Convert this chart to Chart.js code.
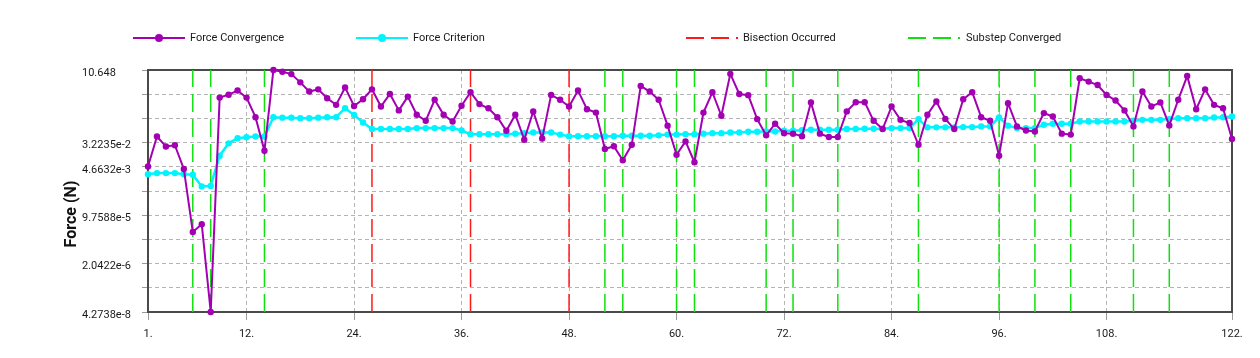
<!DOCTYPE html>
<html>
<head>
<meta charset="utf-8">
<script src="https://cdn.jsdelivr.net/npm/chart.js@4/dist/chart.umd.min.js"></script>
<style>
html,body{margin:0;padding:0;background:#fff;}
#wrap{width:1260px;height:358px;}
</style>
</head>
<body>
<div id="wrap"><canvas id="c" width="1260" height="358"></canvas></div>
<script>
// ---------- data ----------
const iterations = Array.from({length: 122}, (_, i) => i + 1);

const forceConvergence = [
  4.75e-3, 5.23e-2, 2.37e-2, 2.61e-2, 3.92e-3, 2.57e-5, 4.77e-5, 4.2738e-8, 1.175, 1.482,      // 1-10
  2.059, 1.175, 0.2455, 1.671e-2, 10.648, 9.30, 7.664, 3.972, 1.905, 2.268,                   // 11-20
  1.109, 0.658, 2.647, 0.5974, 1.026, 2.268, 0.5748, 1.570, 0.4218, 1.270,                    // 21-30
  0.2978, 0.1837, 0.9874, 0.2978, 0.1733, 0.6091, 1.798, 0.6973, 0.5020, 0.2455,              // 31-40
  0.08314, 0.2978, 0.04065, 0.3904, 0.04478, 1.454, 0.9874, 0.5748, 2.059, 0.4646,            // 41-50
  0.3543, 0.01950, 0.02412, 0.007859, 0.02709, 2.972, 1.905, 0.9874, 0.1248, 0.01226,         // 51-60
  0.03551, 0.006733, 0.3543, 1.798, 0.2757, 7.816, 1.570, 1.426, 0.2103, 0.05757,             // 61-70
  0.1457, 0.06852, 0.06592, 0.05329, 0.7985, 0.06592, 0.05028, 0.05028, 0.3904, 0.8140,       // 71-80
  0.8140, 0.1837, 0.09519, 0.5748, 0.1984, 0.1544, 0.02709, 0.2978, 0.8627, 0.2144,           // 81-90
  0.09519, 1.026, 1.798, 0.2455, 0.1837, 0.01134, 0.7534, 0.1177, 0.08476, 0.07844,           // 91-100
  0.3409, 0.2602, 0.06592, 0.06101, 5.517, 4.210, 3.212, 1.454, 0.9318, 0.4218,               // 101-110
  0.1177, 1.905, 0.5748, 0.7985, 0.1272, 0.9874, 6.567, 0.4646, 2.268, 0.658,                 // 111-120
  0.5020, 0.04308                                                                              // 121-122
];

const forceCriterion = [
  2.560e-3, 2.821e-3, 2.821e-3, 2.821e-3, 2.560e-3, 2.464e-3, 9.741e-4, 1.012e-3, 1.134e-2, 3.042e-2, // 1-10
  4.566e-2, 4.933e-2, 5.23e-2, 5.23e-2, 0.2455, 0.2362, 0.2362, 0.2272, 0.2272, 0.2362,               // 11-20
  0.2455, 0.2455, 0.5020, 0.2921, 0.1604, 0.09519, 0.09519, 0.09519, 0.09519, 0.09519,                // 21-30
  0.1028, 0.1028, 0.1028, 0.1028, 0.1028, 0.08476, 0.06342, 0.06342, 0.06342, 0.06342,                // 31-40
  0.06342, 0.06592, 0.06852, 0.07261, 0.07261, 0.07261, 0.06101, 0.05329, 0.05329, 0.05329,           // 41-50
  0.05329, 0.05329, 0.05329, 0.05539, 0.05539, 0.05539, 0.05539, 0.05757, 0.06101, 0.06101,           // 51-60
  0.06342, 0.06342, 0.06592, 0.06852, 0.06852, 0.07261, 0.07261, 0.07694, 0.07694, 0.07844,           // 61-70
  0.07844, 0.08314, 0.08314, 0.08642, 0.08983, 0.08983, 0.08983, 0.08983, 0.09519, 0.09519,           // 71-80
  0.09703, 0.09703, 0.09703, 0.1028, 0.1028, 0.1028, 0.2103, 0.1090, 0.1090, 0.1090,                  // 81-90
  0.1090, 0.1111, 0.1111, 0.1177, 0.1177, 0.2408, 0.1248, 0.1028, 0.1028, 0.1028,                     // 91-100
  0.1348, 0.1457, 0.1457, 0.1457, 0.1733, 0.1733, 0.1733, 0.1733, 0.1733, 0.1733,                     // 101-110
  0.1837, 0.1984, 0.1984, 0.1984, 0.2103, 0.2272, 0.2272, 0.2272, 0.2272, 0.2408,                     // 111-120
  0.2455, 0.2602                                                                                       // 121-122
];

const bisectionAt = [26, 37, 48];
const substepAt = [6, 8, 14, 52, 54, 60, 62, 70, 73, 78, 87, 96, 100, 104, 111, 115];

const xTickValues = [1, 12, 24, 36, 48, 60, 72, 84, 96, 108, 122];
const yMin = 4.2738e-8;
const yMax = 10.648;
const yTickValues = [4.2738e-8, 2.954e-7, 2.0422e-6, 1.4116e-5, 9.7588e-5, 6.7453e-4, 4.6632e-3, 3.2235e-2, 0.22284, 1.5404, 10.648];
const yTickLabels = ['4.2738e-8', '', '2.0422e-6', '', '9.7588e-5', '', '4.6632e-3', '3.2235e-2', '', '', '10.648'];

// ---------- helpers ----------
const toPoints = (vals) => vals.map((v, i) => ({x: iterations[i], y: v}));
const verticals = (xs) => {
  const pts = [];
  xs.forEach(x => { pts.push({x, y: yMin}, {x, y: yMax}, {x, y: null}); });
  return pts;
};

const PURPLE = '#a200b2';
const CYAN = '#00f4ff';
const RED = '#ff1a1a';
const GREEN = '#10e010';
const FONT = 'Roboto, "Liberation Sans", Arial, sans-serif';

const framePlugin = {
  id: 'frame',
  beforeDatasetsDraw(chart) {
    const {ctx, chartArea: a} = chart;
    ctx.save();
    ctx.strokeStyle = '#4a4a4a';
    ctx.lineWidth = 2;
    ctx.strokeRect(a.left, a.top, a.right - a.left, a.bottom - a.top);
    ctx.restore();
  }
};

const legendPlugin = {
  id: 'customLegend',
  afterDraw(chart) {
    const {ctx} = chart;
    const y = 38;
    const items = [
      {ds: 0, x0: 133, x1: 185, tx: 190},
      {ds: 1, x0: 356, x1: 408, tx: 413},
      {ds: 2, x0: 686, x1: 738, tx: 743},
      {ds: 3, x0: 908, x1: 960, tx: 966}
    ];
    ctx.save();
    items.forEach(it => {
      const d = chart.data.datasets[it.ds];
      ctx.strokeStyle = d.borderColor;
      ctx.lineWidth = 2;
      ctx.setLineDash(d.borderDash || []);
      ctx.beginPath();
      ctx.moveTo(it.x0, y);
      ctx.lineTo(it.x1, y);
      ctx.stroke();
      ctx.setLineDash([]);
      if (d.pointRadius > 0) {
        ctx.fillStyle = d.borderColor;
        ctx.beginPath();
        ctx.arc((it.x0 + it.x1) / 2, y, 4, 0, Math.PI * 2);
        ctx.fill();
      }
      ctx.fillStyle = '#1a1a1a';
      ctx.font = '11px ' + FONT;
      ctx.textBaseline = 'middle';
      ctx.textAlign = 'left';
      ctx.fillText(d.label, it.tx, y);
    });
    ctx.restore();
  }
};

new Chart(document.getElementById('c'), {
  type: 'line',
  data: {
    datasets: [
      {
        label: 'Force Convergence',
        data: toPoints(forceConvergence),
        borderColor: PURPLE,
        backgroundColor: PURPLE,
        borderWidth: 2,
        pointRadius: 3.2,
        pointBorderWidth: 0,
        pointBackgroundColor: PURPLE,
        clip: false,
        order: 1
      },
      {
        label: 'Force Criterion',
        data: toPoints(forceCriterion),
        borderColor: CYAN,
        backgroundColor: CYAN,
        borderWidth: 2.5,
        pointRadius: 3.2,
        pointBorderWidth: 0,
        pointBackgroundColor: CYAN,
        clip: false,
        order: 2
      },
      {
        label: 'Bisection Occurred',
        data: verticals(bisectionAt),
        borderColor: RED,
        borderWidth: 1.5,
        borderDash: [18, 7],
        pointRadius: 0,
        spanGaps: false,
        order: 3
      },
      {
        label: 'Substep Converged',
        data: verticals(substepAt),
        borderColor: GREEN,
        borderWidth: 1.5,
        borderDash: [18, 7],
        pointRadius: 0,
        spanGaps: false,
        order: 4
      }
    ]
  },
  options: {
    responsive: false,
    animation: false,
    events: [],
    layout: {padding: {left: 62, top: 70, right: 28, bottom: 0}},
    plugins: {
      legend: {display: false},
      tooltip: {enabled: false},
      title: {
        display: true,
        position: 'left',
        text: 'Force (N)',
        color: '#111',
        font: {family: FONT, size: 16, weight: 'bold', lineHeight: 1.125},
        padding: 1
      }
    },
    scales: {
      x: {
        type: 'linear',
        min: 1,
        max: 122,
        afterBuildTicks: (s) => { s.ticks = xTickValues.map(v => ({value: v})); },
        afterFit: (s) => { s.height = 46; },
        ticks: {
          autoSkip: false,
          maxRotation: 0,
          padding: 8,
          color: '#1a1a1a',
          font: {family: FONT, size: 11},
          callback: (v) => v + '.'
        },
        grid: {color: '#b4b4b4', lineWidth: 1, tickLength: 8, tickColor: '#9a9a9a', tickBorderDash: []},
        border: {display: false, dash: [4, 3]}
      },
      y: {
        type: 'logarithmic',
        min: yMin,
        max: yMax,
        bounds: 'data',
        afterBuildTicks: (s) => { s.ticks = yTickValues.map(v => ({value: v})); },
        afterFit: (s) => { s.width = 66; },
        ticks: {
          autoSkip: false,
          crossAlign: 'far',
          labelOffset: 3,
          color: '#1a1a1a',
          font: {family: FONT, size: 11},
          callback: (v, i) => yTickLabels[i]
        },
        grid: {color: '#b4b4b4', lineWidth: 1, tickLength: 6, tickColor: '#9a9a9a', tickBorderDash: []},
        border: {display: false, dash: [4, 3]}
      }
    }
  },
  plugins: [framePlugin, legendPlugin]
});
</script>
</body>
</html>
